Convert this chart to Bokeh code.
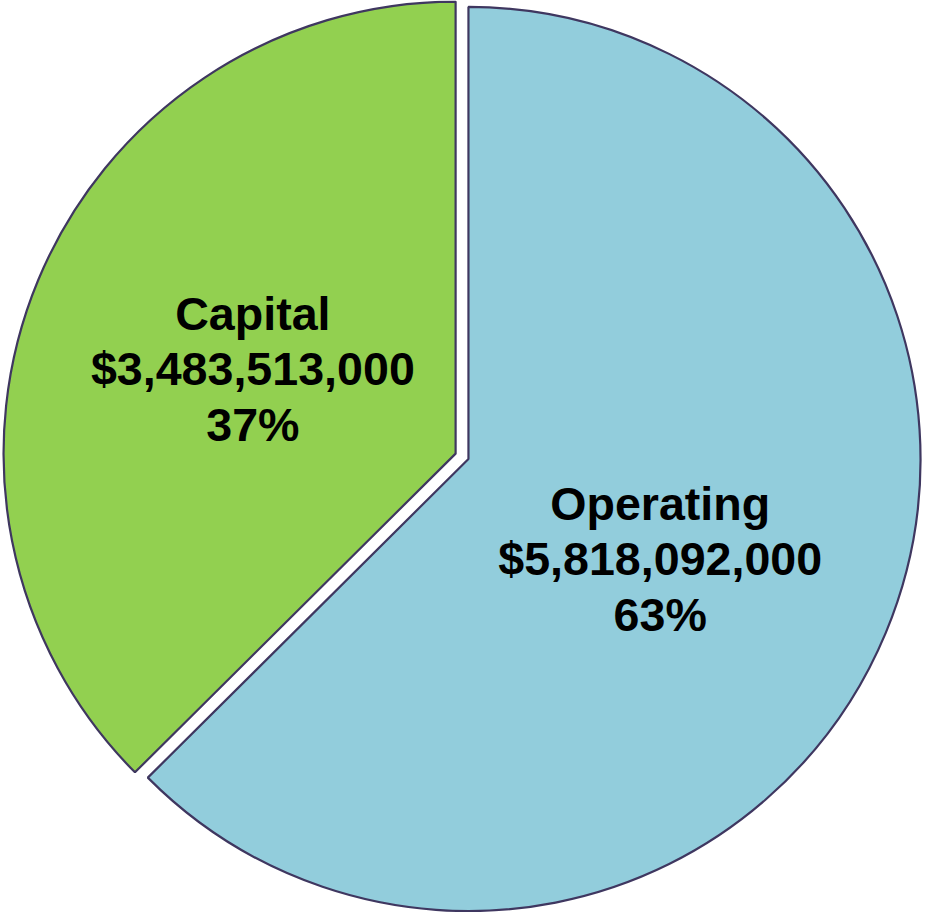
import math
from bokeh.plotting import figure
from bokeh.models import Range1d, ColumnDataSource
from bokeh.core.properties import value
from bokeh.embed import file_html
from bokeh.resources import INLINE

# ---- data ----
categories = ["Capital", "Operating"]
amounts = [3483513000, 5818092000]
colors = ["#92d050", "#92cddc"]

# ---- layout (reference pixel space; y is flipped) ----
W, H = 922, 912
REF_W, REF_H = 928, 919
scale = H / REF_H
pie_cx, pie_cy = 471, 462          # centre of the un-exploded pie
pie_r = 455
explode = [14, 0]                  # pixel offset along the bisector
label_pos = [(254, 371.7), (664, 563)]   # centre x, baseline of middle line
line_step = 56
font_px = 47
outline = "#3f3760"

total = sum(amounts)
fracs = [a / total for a in amounts]

# angles: Capital starts at 12 o'clock and goes anticlockwise, Operating fills the rest
starts, ends, xs, ys = [], [], [], []
a0 = math.pi / 2
for f, d in zip(fracs, explode):
    a1 = a0 + f * 2 * math.pi
    mid = (a0 + a1) / 2
    starts.append(a0)
    ends.append(a1)
    xs.append(pie_cx + d * math.cos(mid))
    ys.append(-pie_cy + d * math.sin(mid))
    a0 = a1

p = figure(width=W, height=H, output_backend="svg", toolbar_location=None,
           x_range=Range1d(0, REF_W), y_range=Range1d(-REF_H, 0),
           min_border=0)
p.axis.visible = False
p.grid.visible = False
p.outline_line_color = None
p.background_fill_color = "white"
p.border_fill_color = "white"

src = ColumnDataSource(dict(x=xs, y=ys, start=starts, end=ends, color=colors))
p.wedge(x="x", y="y", radius=pie_r, start_angle="start", end_angle="end",
        fill_color="color", line_color=outline, line_width=2.2, source=src)

lx, ly, lt = [], [], []
for cat, amt, f, (cx, by) in zip(categories, amounts, fracs, label_pos):
    lines = [cat, "${:,}".format(amt), "{}%".format(round(f * 100))]
    for i, t in enumerate(lines):
        lx.append(cx)
        ly.append(-(by + (i - 1) * line_step))
        lt.append(t)

p.text(x=lx, y=ly, text=lt, text_align="center", text_baseline="alphabetic",
       text_font=value("Liberation Sans"), text_font_style="bold",
       text_font_size="{:.1f}px".format(font_px * scale), text_color="black")

open("out.html", "w").write(file_html(p, INLINE))
